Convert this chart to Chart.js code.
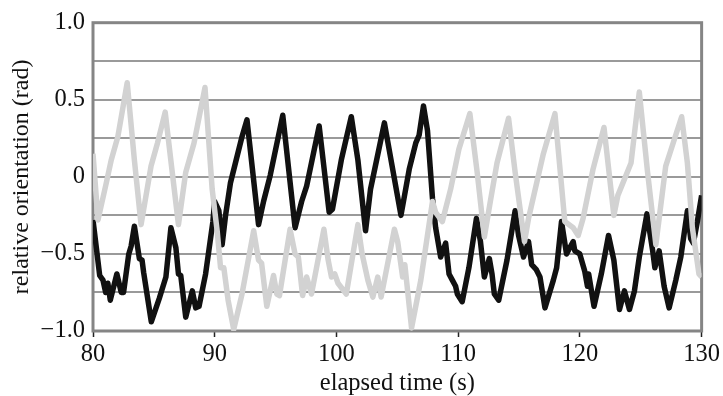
<!DOCTYPE html>
<html>
<head>
<meta charset="utf-8">
<script src="https://cdn.jsdelivr.net/npm/chart.js@4.4.1/dist/chart.umd.min.js"></script>
<style>
  html, body { margin: 0; padding: 0; background: #fff; }
  #wrap { width: 723px; height: 396px; position: relative; }
</style>
</head>
<body>
<div id="wrap"><canvas id="c"></canvas></div>
<script>
// elapsed time (s) and relative orientation (rad)
const blackTime = [80.00, 80.55, 80.82, 81.04, 81.22, 81.42, 81.96, 82.32, 82.51, 82.94, 83.13, 83.40, 83.81, 84.03, 84.16,
  84.79, 85.44, 85.99, 86.40, 86.81, 87.02, 87.21, 87.62, 88.16, 88.44, 88.71, 89.25, 89.85, 89.99, 90.34, 90.61, 90.89,
  91.29, 91.70, 92.24, 92.65, 93.60, 94.01, 94.56, 95.59, 96.60, 97.14, 97.55, 98.58, 99.40, 99.67, 100.40, 101.22,
  101.76, 102.39, 102.80, 103.94, 105.30, 105.98, 106.52, 106.79, 107.15, 107.48, 107.89, 108.15, 108.56, 108.97,
  109.25, 109.52, 109.79, 109.93, 110.33, 110.88, 111.50, 111.83, 112.15, 112.56, 112.78, 112.97, 113.33, 114.01,
  114.68, 114.96, 115.37, 115.78, 116.04, 116.40, 116.72, 117.13, 117.82, 118.09, 118.49, 118.90, 119.17, 119.45,
  119.58, 119.99, 120.39, 120.62, 120.72, 121.16, 121.76, 122.35, 122.79, 123.25, 123.66, 124.07, 124.48, 124.88,
  125.51, 125.98, 126.16, 126.51, 126.92, 127.33, 127.88, 128.29, 128.83, 129.10, 129.32, 129.65, 130.00];
const blackAngle = [-0.28, -0.64, -0.67, -0.75, -0.69, -0.80, -0.63, -0.75, -0.75, -0.50, -0.45, -0.32, -0.53, -0.54, -0.62,
  -0.94, -0.79, -0.65, -0.33, -0.46, -0.63, -0.64, -0.91, -0.74, -0.85, -0.84, -0.63, -0.29, -0.16, -0.22, -0.44, -0.25,
  -0.04, 0.09, 0.26, 0.37, -0.31, -0.16, 0.01, 0.40, -0.33, -0.16, -0.06, 0.33, -0.23, -0.21, 0.11, 0.39,
  0.11, -0.35, -0.08, 0.35, -0.25, 0.05, 0.22, 0.27, 0.46, 0.30, -0.14, -0.33, -0.52, -0.43,
  -0.63, -0.67, -0.71, -0.76, -0.81, -0.59, -0.27, -0.42, -0.65, -0.53, -0.63, -0.76, -0.80, -0.54,
  -0.22, -0.38, -0.52, -0.42, -0.57, -0.60, -0.65, -0.85, -0.67, -0.59, -0.29, -0.50, -0.46, -0.42,
  -0.48, -0.50, -0.61, -0.71, -0.63, -0.84, -0.63, -0.38, -0.54, -0.86, -0.74, -0.86, -0.74, -0.52,
  -0.24, -0.48, -0.59, -0.48, -0.71, -0.85, -0.67, -0.52, -0.22, -0.40, -0.43, -0.29, -0.12];

const greyTime = [80.00, 80.41, 81.09, 81.50, 82.04, 82.81, 83.40, 83.95, 84.77, 85.30, 85.93, 86.48, 87.02, 87.62, 88.30,
  89.20, 89.79, 90.20, 90.48, 90.75, 91.10, 91.56, 92.24, 93.20, 93.60, 93.85, 94.28, 94.83, 95.10, 95.32, 96.19,
  96.60, 96.87, 97.22, 97.55, 97.95, 98.97, 99.32, 99.59, 99.86, 100.13, 100.81, 101.76, 102.11, 102.58, 102.99,
  103.39, 103.67, 104.76, 105.03, 105.44, 105.62, 106.17, 106.93, 107.89, 108.15, 108.70, 109.38, 110.06, 110.96,
  111.56, 112.15, 112.64, 113.19, 114.14, 114.68, 115.45, 115.78, 117.00, 117.95, 118.76, 119.45, 119.86, 120.26,
  121.08, 121.98, 122.79, 123.12, 124.20, 124.88, 125.56, 126.24, 127.05, 128.36, 128.83, 129.24, 129.78, 130.00];
const greyAngle = [0.15, -0.28, -0.04, 0.11, 0.26, 0.61, 0.11, -0.31, 0.07, 0.22, 0.42, 0.05, -0.31, 0.03, 0.22,
  0.58, -0.08, -0.35, -0.59, -0.59, -0.80, -0.99, -0.76, -0.35, -0.54, -0.56, -0.84, -0.64, -0.76, -0.77, -0.34,
  -0.50, -0.52, -0.77, -0.65, -0.76, -0.34, -0.54, -0.65, -0.63, -0.69, -0.76, -0.31, -0.50, -0.67, -0.78,
  -0.65, -0.78, -0.34, -0.42, -0.65, -0.57, -0.98, -0.67, -0.16, -0.23, -0.29, -0.08, 0.18, 0.41,
  0.03, -0.39, -0.16, 0.09, 0.38, 0.03, -0.42, -0.27, 0.15, 0.41, -0.29, -0.33, -0.38, -0.27,
  0.05, 0.32, -0.25, -0.12, 0.09, 0.55, 0.03, -0.44, 0.07, 0.39, 0.09, -0.33, -0.63, -0.65];

const xTicks = [80, 90, 100, 110, 120, 130];
const yLabelled = [1, 0.5, 0, -0.5, -1];

const toPoints = (ts, vs) => ts.map((t, i) => ({ x: t, y: vs[i] }));

const SERIF = "'Liberation Serif', 'Times New Roman', Times, serif";

// grey plot frame around the chart area
const framePlugin = {
  id: 'frame',
  beforeDatasetsDraw(chart) {
    const a = chart.chartArea, ctx = chart.ctx;
    ctx.save();
    ctx.strokeStyle = '#858585';
    ctx.lineWidth = 3;
    ctx.strokeRect(a.left, a.top, a.right - a.left, a.bottom - a.top);
    ctx.restore();
  }
};

new Chart(document.getElementById('c'), {
  type: 'line',
  data: {
    datasets: [
      {
        data: toPoints(greyTime, greyAngle),
        borderColor: '#d2d2d2',
        borderWidth: 5.5,
        pointRadius: 0,
        tension: 0,
        borderJoinStyle: 'round'
      },
      {
        data: toPoints(blackTime, blackAngle),
        borderColor: '#111111',
        borderWidth: 5.5,
        pointRadius: 0,
        tension: 0,
        borderJoinStyle: 'round'
      }
    ]
  },
  options: {
    responsive: true,
    maintainAspectRatio: false,
    animation: false,
    events: [],
    layout: { padding: { left: 7, right: 17, top: 17, bottom: 0 } },
    plugins: { legend: { display: false }, tooltip: { enabled: false } },
    scales: {
      x: {
        type: 'linear',
        min: 80,
        max: 130,
        afterBuildTicks: s => { s.ticks = xTicks.map(v => ({ value: v })); },
        afterFit: s => { s.height = 65; },
        border: { display: false },
        grid: { drawOnChartArea: false, drawTicks: true, tickLength: 6, tickColor: '#222', tickWidth: 1.5 },
        ticks: { color: '#111', font: { family: SERIF, size: 24.5 }, padding: 3, maxRotation: 0 },
        title: { display: true, text: 'elapsed time (s)', color: '#111', font: { family: SERIF, size: 24.5, lineHeight: 1 }, padding: { top: 1, bottom: 0 } }
      },
      y: {
        min: -1,
        max: 1,
        afterFit: s => { s.width = 86; },
        border: { display: false },
        grid: { color: '#9a9a9a', lineWidth: 2, drawTicks: false },
        ticks: {
          stepSize: 0.25,
          color: '#111',
          padding: 8,
          font: { family: SERIF, size: 24.5 },
          callback: v => {
            if (!yLabelled.some(l => Math.abs(l - v) < 1e-9)) return '';
            if (Math.abs(v) < 1e-9) return '0';
            return (v < 0 ? '\u2212' : '') + Math.abs(v).toFixed(1);
          }
        },
        title: { display: true, text: 'relative orientation (rad)', color: '#111', font: { family: SERIF, size: 24 }, padding: { top: 0, bottom: 0 } }
      }
    }
  },
  plugins: [framePlugin]
});
</script>
</body>
</html>
